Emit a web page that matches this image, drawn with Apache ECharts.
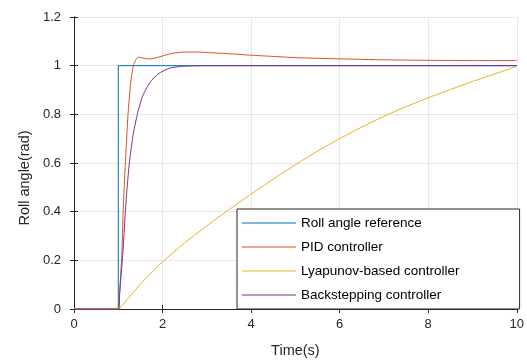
<!DOCTYPE html>
<html>
<head>
<meta charset="utf-8">
<script src="https://cdn.jsdelivr.net/npm/echarts@6/dist/echarts.min.js"></script>
<style>
  html, body { margin: 0; padding: 0; background: #fff; }
  #main { width: 527px; height: 363px; }
</style>
</head>
<body>
<div id="main"></div>
<script>
// roll angle step response
var refTime = [0, 1, 1, 10];
var refValue = [0, 0, 1, 1];

var pidTime = [0, 1, 1.03, 1.05, 1.08, 1.11, 1.16, 1.22, 1.28, 1.34, 1.4, 1.45, 1.5, 1.58, 1.71, 1.85, 2.0, 2.2, 2.4, 2.6, 2.8, 3.0, 3.5, 4, 4.5, 5, 6, 7, 8, 9, 10];
var pidValue = [0, 0, 0.07, 0.13, 0.22, 0.4, 0.6, 0.8, 0.93, 1.0, 1.025, 1.035, 1.034, 1.03, 1.028, 1.032, 1.04, 1.05, 1.055, 1.056, 1.056, 1.054, 1.049, 1.043, 1.038, 1.033, 1.028, 1.024, 1.022, 1.021, 1.021];

var lyapTime = [0, 1.02, 1.5, 2, 2.5, 3, 3.5, 4, 4.5, 5, 5.5, 6, 6.5, 7, 7.5, 8, 8.5, 9, 9.5, 10];
var lyapValue = [0, 0, 0.103, 0.195, 0.272, 0.342, 0.408, 0.472, 0.534, 0.593, 0.649, 0.7, 0.748, 0.792, 0.832, 0.868, 0.902, 0.935, 0.966, 0.997];

var backTime = [0, 1, 1.03, 1.06, 1.1, 1.16, 1.2, 1.25, 1.33, 1.43, 1.55, 1.71, 1.9, 2.16, 2.5, 3, 10];
var backValue = [0, 0, 0.06, 0.13, 0.22, 0.4, 0.5, 0.6, 0.71, 0.8, 0.875, 0.93, 0.966, 0.99, 0.998, 1.0, 1.0];

var xTicks = [0, 2, 4, 6, 8, 10];
var yTicks = [0, 0.2, 0.4, 0.6, 0.8, 1, 1.2];

function pairs(t, v) {
  return t.map(function (x, i) { return [x, v[i]]; });
}

var font = 'Liberation Sans, Arial, sans-serif';
var axisCol = '#262626';
var lineIcon = 'path://M0,0 L54,0 L54,1 L0,1 Z';
var chart = echarts.init(document.getElementById('main'));

var option = {
  animation: false,
  backgroundColor: '#fff',
  textStyle: { fontFamily: font },
  grid: { left: 74, right: 9, top: 17, bottom: 51 },
  legend: {
    orient: 'vertical',
    left: 237,
    top: 209,
    padding: [7, 60, 7, 5],
    itemWidth: 54,
    itemHeight: 14,
    itemGap: 10,
    backgroundColor: '#fff',
    borderColor: axisCol,
    borderWidth: 1,
    textStyle: { fontSize: 13.5, color: '#000', fontFamily: font },
    data: [
      { name: 'Roll angle reference', icon: lineIcon },
      { name: 'PID controller', icon: lineIcon },
      { name: 'Lyapunov-based controller', icon: lineIcon },
      { name: 'Backstepping controller', icon: lineIcon }
    ]
  },
  xAxis: [{
    type: 'value',
    min: 0, max: 10, interval: 2,
    name: 'Time(s)',
    nameLocation: 'middle',
    nameGap: 34,
    nameTextStyle: { fontSize: 14.5, color: axisCol },
    axisLine: { lineStyle: { color: axisCol } },
    axisTick: { inside: true, length: 4, lineStyle: { color: axisCol } },
    axisLabel: { fontSize: 13, color: axisCol, margin: 9,
      formatter: function (v) { return xTicks.indexOf(v) >= 0 ? String(v) : ''; } },
    splitLine: { show: true, lineStyle: { color: '#e6e6e6' } }
  }, {
    type: 'value', position: 'top',
    min: 0, max: 10, interval: 2,
    axisLine: { show: true, lineStyle: { color: axisCol } },
    axisTick: { inside: true, length: 4, lineStyle: { color: axisCol } },
    axisLabel: { show: false },
    splitLine: { show: false }
  }],
  yAxis: [{
    type: 'value',
    min: 0, max: 1.2, interval: 0.2,
    name: 'Roll angle(rad)',
    nameLocation: 'middle',
    nameGap: 40,
    nameTextStyle: { fontSize: 14.5, color: axisCol, padding: [0, 30, 0, 0] },
    axisLine: { show: true, lineStyle: { color: axisCol } },
    axisTick: { show: true, inside: true, length: 4, lineStyle: { color: axisCol } },
    axisLabel: { fontSize: 13, color: axisCol, margin: 13,
      formatter: function (v) {
        var r = Math.round(v * 10) / 10;
        return yTicks.indexOf(r) >= 0 ? String(r) : '';
      } },
    splitLine: { show: true, lineStyle: { color: '#e6e6e6' } }
  }, {
    type: 'value', position: 'right',
    min: 0, max: 1.2, interval: 0.2,
    axisLine: { show: true, lineStyle: { color: axisCol } },
    axisTick: { show: true, inside: true, length: 4, lineStyle: { color: axisCol } },
    axisLabel: { show: false },
    splitLine: { show: false }
  }],
  series: [{
    name: 'Roll angle reference',
    type: 'line', symbol: 'none',
    lineStyle: { color: '#0072BD', width: 1 },
    itemStyle: { color: '#0072BD' },
    data: pairs(refTime, refValue)
  }, {
    name: 'PID controller',
    type: 'line', symbol: 'none', smooth: 0.2,
    lineStyle: { color: '#D95319', width: 1 },
    itemStyle: { color: '#D95319' },
    data: pairs(pidTime, pidValue)
  }, {
    name: 'Lyapunov-based controller',
    type: 'line', symbol: 'none',
    lineStyle: { color: '#EDB120', width: 1 },
    itemStyle: { color: '#EDB120' },
    data: pairs(lyapTime, lyapValue)
  }, {
    name: 'Backstepping controller',
    type: 'line', symbol: 'none', smooth: 0.2,
    lineStyle: { color: '#7E2F8E', width: 1 },
    itemStyle: { color: '#7E2F8E' },
    data: pairs(backTime, backValue)
  }]
};

chart.setOption(option);
</script>
</body>
</html>
